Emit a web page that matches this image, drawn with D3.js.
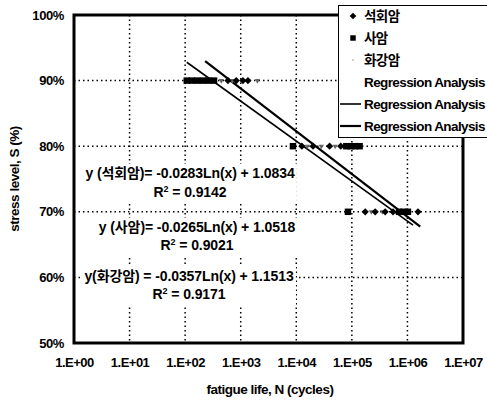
<!DOCTYPE html>
<html>
<head>
<meta charset="utf-8">
<script src="https://cdn.jsdelivr.net/npm/d3@7"></script>
<style>
  body { margin: 0; background: #fff; }
  svg text { font-family: "Liberation Sans", Arial, "Noto Sans CJK KR", sans-serif; fill: #000; }
</style>
</head>
<body>
<div id="chart"></div>
<script>
// fatigue data (N = cycles, S = stress level)
var limestoneN = [589, 832, 1096, 1349, 12600, 20000, 39800, 63100, 174000, 263000, 398000, 550000, 1550000];
var limestoneS = [0.9, 0.9, 0.9, 0.9, 0.8, 0.8, 0.8, 0.8, 0.7, 0.7, 0.7, 0.7, 0.7];
var sandstoneN = [107, 132, 166, 209, 263, 331, 8710, 79400, 95500, 115000, 138000, 85100, 708000, 851000, 1020000];
var sandstoneS = [0.9, 0.9, 0.9, 0.9, 0.9, 0.9, 0.8, 0.8, 0.8, 0.8, 0.8, 0.7, 0.7, 0.7, 0.7];
var graniteN = [447, 708, 2000, 15800, 28200, 50100, 224000, 355000];
var graniteS = [0.9, 0.9, 0.9, 0.8, 0.8, 0.8, 0.7, 0.7];

var seriesNames = ["석회암", "사암", "화강암"];
// regression: S = a*ln(N) + b
var regA = [-0.0283, -0.0265, -0.0357];
var regB = [1.0834, 1.0518, 1.1513];
var regR2 = ["0.9142", "0.9021", "0.9171"];
var regRange = [[229, 1700000], [107, 1260000], [107, 1550000]];

var xTicks = [1, 10, 100, 1000, 10000, 100000, 1000000, 10000000];
var xTickLabels = ["1.E+00", "1.E+01", "1.E+02", "1.E+03", "1.E+04", "1.E+05", "1.E+06", "1.E+07"];
var yTicks = [0.5, 0.6, 0.7, 0.8, 0.9, 1.0];

var W = 487, H = 400;
var svg = d3.select("#chart").append("svg").attr("width", W).attr("height", H);

var x = d3.scaleLog().domain([1, 1e7]).range([74, 463]);
var y = d3.scaleLinear().domain([0.5, 1.0]).range([343, 15]);

// gridlines (dotted)
svg.append("g").selectAll("line").data(xTicks.slice(1, -1)).join("line")
  .attr("x1", d => x(d)).attr("x2", d => x(d))
  .attr("y1", y(1)).attr("y2", y(0.5))
  .attr("stroke", "#000").attr("stroke-width", 1.5).attr("stroke-dasharray", "1.5,3");
svg.append("g").selectAll("line").data(yTicks.slice(1, -1)).join("line")
  .attr("x1", x(1)).attr("x2", x(1e7))
  .attr("y1", d => y(d)).attr("y2", d => y(d))
  .attr("stroke", "#000").attr("stroke-width", 1.5).attr("stroke-dasharray", "1.5,3");

// axes text
var xAxis = svg.append("g").attr("transform", "translate(0,343)")
  .call(d3.axisBottom(x).tickValues(xTicks).tickFormat((d, i) => xTickLabels[i]).tickSize(0).tickPadding(15));
xAxis.select(".domain").remove();
xAxis.selectAll("text").attr("font-size", 13).attr("letter-spacing", -0.5).attr("font-weight", "bold").attr("fill", "#000");

var yAxis = svg.append("g").attr("transform", "translate(74,0)")
  .call(d3.axisLeft(y).tickValues(yTicks).tickFormat(d3.format(".0%")).tickSize(0).tickPadding(10));
yAxis.select(".domain").remove();
yAxis.selectAll("text").attr("font-size", 13).attr("letter-spacing", -0.4).attr("font-weight", "bold").attr("fill", "#000");

svg.append("text").attr("x", 270).attr("y", 394).attr("text-anchor", "middle")
  .attr("font-size", 13.5).attr("letter-spacing", -0.5).attr("font-weight", "bold")
  .text("fatigue life, N (cycles)");
svg.append("text").attr("transform", "translate(19,179) rotate(-90)").attr("text-anchor", "middle")
  .attr("font-size", 13.5).attr("letter-spacing", -0.5).attr("font-weight", "bold")
  .text("stress level, S (%)");

// regression lines
var regStroke = ["#000", "#000", "none"];
var regWidth = [2.2, 1.6, 1];
regA.forEach(function(a, k) {
  var pts = regRange[k].map(n => [x(n), y(a * Math.log(n) + regB[k])]);
  svg.append("path").attr("d", d3.line()(pts))
    .attr("fill", "none").attr("stroke", regStroke[k]).attr("stroke-width", regWidth[k]);
});

// points
svg.append("g").selectAll("path").data(graniteN).join("path")
  .attr("d", d3.symbol(d3.symbolTriangle, 12)).attr("transform", function(d, i) {
    return "translate(" + x(d) + "," + y(graniteS[i]) + ") rotate(180)"; })
  .attr("fill", "#666");
svg.append("g").selectAll("path").data(sandstoneN).join("path")
  .attr("transform", (d, i) => "translate(" + x(d) + "," + y(sandstoneS[i]) + ")")
  .attr("d", d3.symbol(d3.symbolSquare, 42)).attr("fill", "#000");
svg.append("g").selectAll("path").data(limestoneN).join("path")
  .attr("transform", (d, i) => "translate(" + x(d) + "," + y(limestoneS[i]) + ") rotate(45)")
  .attr("d", d3.symbol(d3.symbolSquare, 26)).attr("fill", "#000");

// regression equation labels with white boxes
var labelPos = [[190, 178, 197], [197, 232, 250], [189, 281, 299]];
var labelText = ["y (석회암)= -0.0283Ln(x) + 1.0834", "y (사암)= -0.0265Ln(x) + 1.0518", "y(화강암) = -0.0357Ln(x) + 1.1513"];
labelText.forEach(function(t, k) {
  var g = svg.append("g");
  var bg = g.append("rect").attr("fill", "#fff");
  g.append("text").attr("x", labelPos[k][0]).attr("y", labelPos[k][1]).attr("text-anchor", "middle")
    .attr("font-size", 14).attr("letter-spacing", -0.1).attr("font-weight", "bold").text(t);
  var r = g.append("text").attr("x", labelPos[k][0]).attr("y", labelPos[k][2]).attr("text-anchor", "middle")
    .attr("font-size", 14).attr("letter-spacing", -0.1).attr("font-weight", "bold");
  r.append("tspan").text("R");
  r.append("tspan").attr("dy", -5).attr("font-size", 9).text("2");
  r.append("tspan").attr("dy", 5).text(" = " + regR2[k]);
  var bb = g.node().getBBox();
  bg.attr("x", bb.x - 2).attr("y", bb.y - 1).attr("width", bb.width + 4).attr("height", bb.height + 4);
});

// plot frame
svg.append("rect").attr("x", 74).attr("y", 15).attr("width", 389).attr("height", 328)
  .attr("fill", "none").attr("stroke", "#000").attr("stroke-width", 3);

// legend
var leg = svg.append("g");
leg.append("rect").attr("x", 338.5).attr("y", 5.5).attr("width", 160).attr("height", 132)
  .attr("fill", "#fff").attr("stroke", "#000").attr("stroke-width", 1);
var legNames = seriesNames.concat(["Regression Analysis", "Regression Analysis", "Regression Analysis"]);
legNames.forEach(function(nm, i) {
  var cy = 16 + i * 22;
  if (i === 0) leg.append("path").attr("transform", "translate(353," + cy + ") rotate(45)").attr("d", d3.symbol(d3.symbolSquare, 22)());
  if (i === 1) leg.append("path").attr("transform", "translate(353," + cy + ")").attr("d", d3.symbol(d3.symbolSquare, 30)());
  if (i === 2) leg.append("circle").attr("cx", 353).attr("cy", cy).attr("r", 0.8).attr("fill", "#999");
  if (i >= 3 && regStroke[5 - i] !== "none") {
    leg.append("line").attr("x1", 340).attr("x2", 361).attr("y1", cy).attr("y2", cy)
      .attr("stroke", "#000").attr("stroke-width", regWidth[5 - i]);
  }
  leg.append("text").attr("x", 364).attr("y", cy + 5).attr("font-size", 13.5).attr("letter-spacing", -0.6)
    .attr("font-weight", "bold").text(nm);
});
</script>
</body>
</html>
